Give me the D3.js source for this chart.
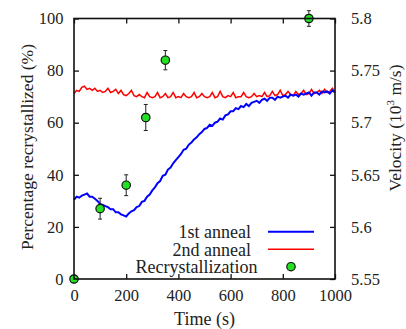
<!DOCTYPE html>
<html>
<head>
<meta charset="utf-8">
<script src="https://cdn.jsdelivr.net/npm/d3@7"></script>
<style>
  body { margin: 0; background: #fff; }
  svg { display: block; }
</style>
</head>
<body>
<div id="chart"></div>
<script>
// time axis (s), one reading every 10 s
const times = d3.range(0, 1001, 10);

// velocity, 10^3 m/s
const firstAnneal = [
  5.626, 5.629, 5.628, 5.630, 5.631, 5.632, 5.629, 5.629, 5.627, 5.625,
  5.622, 5.621, 5.620, 5.619, 5.617, 5.617, 5.614, 5.614, 5.612, 5.611,
  5.610, 5.613, 5.615, 5.616, 5.619, 5.620, 5.624, 5.625, 5.629, 5.631,
  5.635, 5.638, 5.642, 5.644, 5.649, 5.650, 5.655, 5.657, 5.661, 5.664,
  5.667, 5.670, 5.674, 5.675, 5.679, 5.681, 5.684, 5.686, 5.689, 5.691,
  5.694, 5.695, 5.698, 5.697, 5.700, 5.701, 5.704, 5.703, 5.707, 5.708,
  5.711, 5.711, 5.714, 5.713, 5.716, 5.715, 5.718, 5.716, 5.719, 5.720,
  5.721, 5.719, 5.722, 5.723, 5.721, 5.724, 5.724, 5.722, 5.725, 5.724,
  5.725, 5.726, 5.724, 5.727, 5.726, 5.727, 5.725, 5.728, 5.727, 5.728,
  5.729, 5.726, 5.729, 5.729, 5.727, 5.730, 5.729, 5.730, 5.728, 5.731,
  5.729
];

const secondAnneal = [
  5.728, 5.731, 5.730, 5.734, 5.735, 5.732, 5.733, 5.731, 5.733, 5.730,
  5.731, 5.729, 5.730, 5.733, 5.729, 5.730, 5.732, 5.728, 5.731, 5.727,
  5.726, 5.728, 5.731, 5.726, 5.725, 5.727, 5.725, 5.724, 5.729, 5.725,
  5.724, 5.725, 5.729, 5.724, 5.725, 5.728, 5.724, 5.725, 5.729, 5.724,
  5.725, 5.724, 5.728, 5.725, 5.724, 5.725, 5.729, 5.724, 5.725, 5.728,
  5.725, 5.724, 5.725, 5.729, 5.724, 5.725, 5.730, 5.725, 5.724, 5.726,
  5.725, 5.729, 5.724, 5.725, 5.725, 5.729, 5.725, 5.724, 5.725, 5.728,
  5.725, 5.726, 5.725, 5.729, 5.725, 5.726, 5.730, 5.726, 5.727, 5.731,
  5.726, 5.727, 5.730, 5.727, 5.726, 5.730, 5.727, 5.728, 5.731, 5.727,
  5.728, 5.732, 5.728, 5.729, 5.731, 5.728, 5.732, 5.729, 5.730, 5.733,
  5.729
];

// recrystallized fraction (%)
const recrystTime = [0, 100, 200, 275, 350, 900];
const recrystPct = [0, 27, 36, 62, 84, 100];
const recrystErr = [0, 4, 4, 5, 3.7, 3];

const xTicks = [0, 200, 400, 600, 800, 1000];
const pctTicks = [0, 20, 40, 60, 80, 100];
const velTicks = [5.55, 5.6, 5.65, 5.7, 5.75, 5.8];

const width = 406, height = 329;
const plotL = 74, plotR = 335, plotT = 18.5, plotB = 279;
const serif = 'Liberation Serif, DejaVu Serif, serif';

const svg = d3.select('#chart').append('svg')
  .attr('width', width)
  .attr('height', height)
  .attr('font-family', serif);

const x = d3.scaleLinear().domain([0, 1000]).range([plotL, plotR]);
const yPct = d3.scaleLinear().domain([0, 100]).range([plotB, plotT]);
const yVel = d3.scaleLinear().domain([5.55, 5.8]).range([plotB, plotT]);

function styleAxis(g) {
  g.attr('font-family', serif).attr('font-size', 16.5);
  g.select('.domain').remove();
  g.selectAll('line').attr('stroke', '#111').attr('stroke-width', 1.3);
  g.selectAll('text').attr('fill', '#222');
}

svg.append('g')
  .attr('transform', `translate(0,${plotB})`)
  .call(d3.axisBottom(x).tickValues(xTicks).tickSize(-5).tickPadding(10.5)
    .tickFormat(d3.format('d')))
  .call(styleAxis);

svg.append('g')
  .attr('transform', `translate(0,${plotT})`)
  .call(d3.axisTop(x).tickValues(xTicks).tickSize(-5).tickFormat(''))
  .call(styleAxis);

svg.append('g')
  .attr('transform', `translate(${plotL},0)`)
  .call(d3.axisLeft(yPct).tickValues(pctTicks).tickSize(-5).tickPadding(10.5))
  .call(styleAxis);

svg.append('g')
  .attr('transform', `translate(${plotR},0)`)
  .call(d3.axisRight(yVel).tickValues(velTicks).tickSize(-5).tickPadding(16)
    .tickFormat(d => String(+d.toFixed(2))))
  .call(styleAxis);

const line = d3.line()
  .x((d, i) => x(times[i]))
  .y(d => yVel(d));

svg.append('path')
  .datum(secondAnneal)
  .attr('d', line)
  .attr('fill', 'none')
  .attr('stroke', '#ff0000')
  .attr('stroke-width', 1.5);

svg.append('path')
  .datum(firstAnneal)
  .attr('d', line)
  .attr('fill', 'none')
  .attr('stroke', '#0000ff')
  .attr('stroke-width', 2);

// error bars + markers
const pts = recrystTime.map((t, i) => ({ t, p: recrystPct[i], e: recrystErr[i] }));
const eb = svg.append('g').attr('stroke', '#222').attr('stroke-width', 1);
pts.filter(d => d.e > 0).forEach(d => {
  eb.append('line')
    .attr('x1', x(d.t)).attr('x2', x(d.t))
    .attr('y1', yPct(d.p - d.e)).attr('y2', yPct(d.p + d.e));
  [d.p - d.e, d.p + d.e].forEach(v => {
    eb.append('line')
      .attr('x1', x(d.t) - 2).attr('x2', x(d.t) + 2)
      .attr('y1', yPct(v)).attr('y2', yPct(v));
  });
});

svg.append('g').selectAll('circle')
  .data(pts)
  .join('circle')
  .attr('cx', d => x(d.t))
  .attr('cy', d => yPct(d.p))
  .attr('r', 4.2)
  .attr('fill', '#22e022')
  .attr('stroke', '#111')
  .attr('stroke-width', 1.2);

// frame
svg.append('rect')
  .attr('x', plotL).attr('y', plotT)
  .attr('width', plotR - plotL).attr('height', plotB - plotT)
  .attr('fill', 'none')
  .attr('stroke', '#111')
  .attr('stroke-width', 1.6);

// legend
const legend = svg.append('g').attr('font-size', 18).attr('fill', '#222');
legend.append('text').attr('x', 251).attr('y', 231.7).attr('dy', '0.35em')
  .attr('text-anchor', 'end').text('1st anneal');
legend.append('line').attr('x1', 268).attr('x2', 314).attr('y1', 231.7).attr('y2', 231.7)
  .attr('stroke', '#0000ff').attr('stroke-width', 2);
legend.append('text').attr('x', 251).attr('y', 249.3).attr('dy', '0.35em')
  .attr('text-anchor', 'end').text('2nd anneal');
legend.append('line').attr('x1', 268).attr('x2', 314).attr('y1', 249.3).attr('y2', 249.3)
  .attr('stroke', '#ff0000').attr('stroke-width', 1.5);
legend.append('text').attr('x', 257.5).attr('y', 266.7).attr('dy', '0.35em')
  .attr('text-anchor', 'end').text('Recrystallization');
legend.append('circle').attr('cx', 291).attr('cy', 266.7).attr('r', 4.2)
  .attr('fill', '#22e022').attr('stroke', '#111').attr('stroke-width', 1.2);

// axis titles
svg.append('text')
  .attr('x', (plotL + plotR) / 2).attr('y', 325)
  .attr('text-anchor', 'middle').attr('font-size', 18).attr('fill', '#222')
  .text('Time (s)');

svg.append('text')
  .attr('transform', 'translate(33,147) rotate(-90)')
  .attr('text-anchor', 'middle').attr('font-size', 17.5).attr('fill', '#222')
  .text('Percentage recrystallized (%)');

const vel = svg.append('text')
  .attr('transform', 'translate(401,128) rotate(-90)')
  .attr('text-anchor', 'middle').attr('font-size', 17.5).attr('fill', '#222');
vel.append('tspan').text('Velocity (10');
vel.append('tspan').attr('font-size', 11).attr('dy', '-0.6em').text('3');
vel.append('tspan').attr('dy', '0.4em').text(' m/s)');
</script>
</body>
</html>
